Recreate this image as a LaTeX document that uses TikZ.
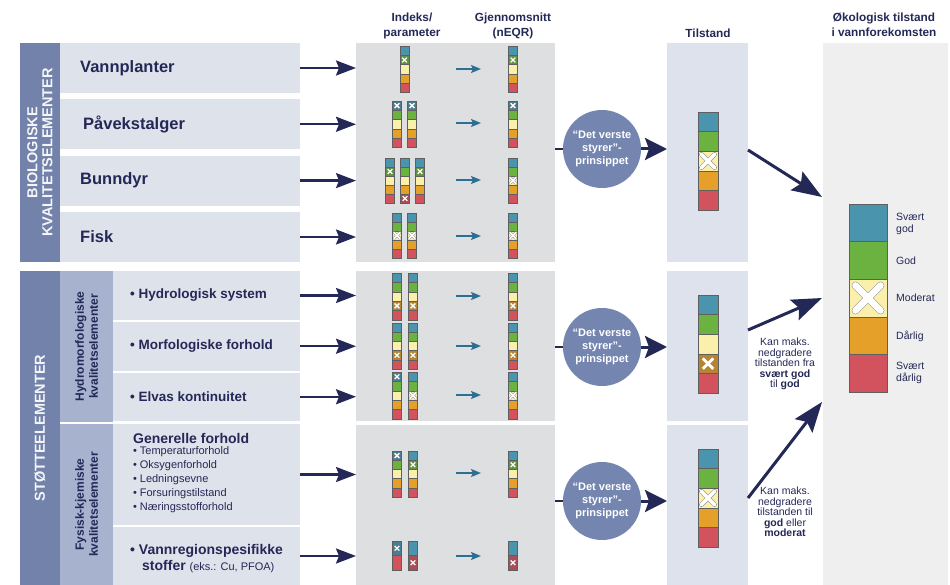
\documentclass[tikz,border=0pt]{standalone}
\usepackage{fontspec}
\setmainfont{Liberation Sans}
\usepackage{xcolor}
\usetikzlibrary{arrows.meta,positioning,calc}

\definecolor{kblue}{RGB}{75,148,174}
\definecolor{kgreen}{RGB}{108,178,64}
\definecolor{kyellow}{RGB}{250,240,172}
\definecolor{korange}{RGB}{228,160,40}
\definecolor{kred}{RGB}{210,82,94}
\definecolor{kdark}{RGB}{70,70,70}
\definecolor{kline}{RGB}{95,95,95}
\definecolor{knavy}{RGB}{36,40,86}
\definecolor{kslate}{RGB}{114,130,170}
\definecolor{kmid}{RGB}{166,178,206}
\definecolor{kbox}{RGB}{222,226,235}
\definecolor{kgrey}{RGB}{221,223,225}
\definecolor{ktil}{RGB}{221,226,236}
\definecolor{keco}{RGB}{239,239,239}
\definecolor{kteal}{RGB}{46,111,145}
\definecolor{kcircle}{RGB}{116,133,176}

% bar: x centre, top, segment height, width, list colour/mark (n, f, h)
\newcommand{\kbar}[5]{%
  \foreach \kc/\km [count=\i from 0] in {#5}{%
    \pgfmathsetmacro{\ktop}{#2+\i*#3}%
    \pgfmathsetmacro{\kcy}{#2+(\i+0.5)*#3}%
    \if\km f%
      \pgfmathsetmacro{\ka}{0.26*#4}%
      \pgfmathsetmacro{\klw}{max(1.3,0.14*#4)}%
      \filldraw[kseg, fill=\kc!70!kdark] (#1-#4/2,\ktop) rectangle ++(#4,#3);
      \draw[white, line width=\klw pt] (#1-\ka,\kcy-\ka) -- (#1+\ka,\kcy+\ka)
        (#1-\ka,\kcy+\ka) -- (#1+\ka,\kcy-\ka);
    \else
      \filldraw[kseg, fill=\kc] (#1-#4/2,\ktop) rectangle ++(#4,#3);
      \if\km h%
        \pgfmathsetmacro{\ka}{0.33*#4}%
        \pgfmathsetmacro{\klw}{max(1.4,0.17*#4)}%
        \pgfmathsetmacro{\kow}{\klw+1.2}%
        \draw[gray!80, line width=\kow pt, line cap=round] (#1-\ka,\kcy-\ka) -- (#1+\ka,\kcy+\ka)
          (#1-\ka,\kcy+\ka) -- (#1+\ka,\kcy-\ka);
        \draw[white, line width=\klw pt, line cap=round] (#1-\ka,\kcy-\ka) -- (#1+\ka,\kcy+\ka)
          (#1-\ka,\kcy+\ka) -- (#1+\ka,\kcy-\ka);
      \fi
    \fi
  }%
}

\begin{document}
\begin{tikzpicture}[x=1pt, y=-1pt,
    box/.style={anchor=north west, inner sep=0pt, outer sep=0pt},
    rowtext/.style={anchor=west, inner sep=0pt, text=knavy, font=\bfseries\fontsize{16.5}{18}\selectfont},
    subtext/.style={anchor=west, inner sep=0pt, text=knavy, font=\bfseries\fontsize{13.5}{16}\selectfont},
    sidelab/.style={rotate=90, align=center, inner sep=0pt, text=white!92!kslate, font=\bfseries\fontsize{14.5}{15}\selectfont},
    sublab/.style={rotate=90, align=center, inner sep=0pt, text=knavy, font=\bfseries\fontsize{12}{14}\selectfont},
    head/.style={align=center, inner sep=0pt, text=knavy, font=\bfseries\fontsize{11.8}{15}\selectfont},
    prinsipp/.style={circle, fill=kcircle, minimum size=78pt, inner sep=0pt, align=center, text=white, font=\bfseries\fontsize{11}{13.3}\selectfont},
    note/.style={align=center, inner sep=0pt, text=knavy, font=\fontsize{10.5}{10.6}\selectfont},
    legtext/.style={anchor=west, align=left, inner sep=0pt, text=knavy, font=\fontsize{10.5}{11.5}\selectfont},
    navyline/.style={draw=knavy, line width=2.4pt},
    rowarrow/.style={draw=knavy, line width=2.4pt, -{Stealth[length=20pt,width=15pt,inset=3pt]}},
    bigarrow/.style={draw=knavy, line width=3pt, -{Stealth[length=22pt,width=22pt,inset=4pt]}},
    diagarrow/.style={draw=knavy, line width=3pt, -{Stealth[length=30pt,width=22pt,inset=5pt]}},
    tealarrow/.style={draw=kteal, line width=1.8pt, -{Stealth[length=10pt,width=8pt,inset=2pt]}},
    kseg/.style={draw=kline, line width=0.5pt}]

    \useasboundingbox (0,0) rectangle (950,585);

    %LEFT BARS
    \node[box, fill=kslate, minimum width=40pt, minimum height=219pt] (biobar) at (20,43) {};
    \node[box, fill=kslate, minimum width=40pt, minimum height=314pt] (stottebar) at (20,271) {};
    \node[box, fill=kmid, minimum width=53pt, minimum height=151pt] (hydrobar) at (60,271) {};
    \node[box, fill=kmid, minimum width=53pt, minimum height=161pt] (fysbar) at (60,424) {};

    \node[sidelab] (biolab) at (biobar.center) {BIOLOGISKE\\KVALITETSELEMENTER};
    \node[sidelab] (stottelab) at (stottebar.center) {STØTTEELEMENTER};
    \node[sublab] (hydrolab) at (hydrobar.center) {Hydromorfologiske\\kvalitetselementer};
    \node[sublab] (fyslab) at (fysbar.center) {Fysisk-kjemiske\\kvalitetselementer};

    %ROWS
    \node[box, fill=kbox, minimum width=240pt, minimum height=50pt] (vannplanter) at (60,43) {};
    \node[box, fill=kbox, minimum width=240pt, minimum height=50pt] (paavekst) at (60,99.3) {};
    \node[box, fill=kbox, minimum width=240pt, minimum height=50pt] (bunndyr) at (60,155.6) {};
    \node[box, fill=kbox, minimum width=240pt, minimum height=50pt] (fisk) at (60,212) {};
    \node[box, fill=kbox, minimum width=187pt, minimum height=49pt] (hydrologisk) at (113,271) {};
    \node[box, fill=kbox, minimum width=187pt, minimum height=48.5pt] (morfologisk) at (113,322) {};
    \node[box, fill=kbox, minimum width=187pt, minimum height=48.5pt] (elvas) at (113,372.5) {};
    \node[box, fill=kbox, minimum width=187pt, minimum height=101pt] (generelle) at (113,424) {};
    \node[box, fill=kbox, minimum width=187pt, minimum height=58pt] (vannregion) at (113,527) {};

    \node[rowtext, right=20pt of vannplanter.west] (vannplanter-t) {Vannplanter};
    \node[rowtext, right=23pt of paavekst.west] (paavekst-t) {Påvekstalger};
    \node[rowtext, right=20pt of bunndyr.west] (bunndyr-t) {Bunndyr};
    \node[rowtext, right=20pt of fisk.west] (fisk-t) {Fisk};
    \node[subtext, right=17pt of hydrologisk.west] (hydrologisk-t) {• Hydrologisk system};
    \node[subtext, right=17pt of morfologisk.west] (morfologisk-t) {• Morfologiske forhold};
    \node[subtext, right=17pt of elvas.west] (elvas-t) {• Elvas kontinuitet};
    \node[subtext, font=\bfseries\fontsize{14}{16}\selectfont] (generelle-t) at (133,438) {Generelle forhold};
    \node[box, align=left, text=knavy, font=\fontsize{11}{14}\selectfont] (generelle-l) at (133,447)
        {• Temperaturforhold\\• Oksygenforhold\\• Ledningsevne\\• Forsuringstilstand\\• Næringsstofforhold};
    \node[subtext, anchor=base west, font=\bfseries\fontsize{14}{16}\selectfont] (vannregion-t) at (130,554) {• Vannregionspesifikke};
    \node[subtext, anchor=base west, font=\bfseries\fontsize{14}{16}\selectfont] (vannregion-u) at (142,570)
        {stoffer {\mdseries\fontsize{11}{14}\selectfont (eks.: Cu, PFOA)}};

    %PANELS
    \node[box, fill=kgrey, minimum width=199pt, minimum height=219pt] (indeks1) at (356,43) {};
    \node[box, fill=kgrey, minimum width=199pt, minimum height=150pt] (indeks2) at (356,271) {};
    \node[box, fill=kgrey, minimum width=199pt, minimum height=160pt] (indeks3) at (356,425) {};
    \node[box, fill=ktil, minimum width=81pt, minimum height=219pt] (tilstand1) at (667,43) {};
    \node[box, fill=ktil, minimum width=81pt, minimum height=150pt] (tilstand2) at (667,271) {};
    \node[box, fill=ktil, minimum width=81pt, minimum height=160pt] (tilstand3) at (667,425) {};
    \node[box, fill=keco, minimum width=125pt, minimum height=542pt] (eco) at (823,43) {};

    %HEADERS
    \node[head] (hindeks) at (412,26) {Indeks/\\parameter};
    \node[head] (hgjen) at (513,26) {Gjennomsnitt\\(nEQR)};
    \node[head] (htil) at (708,33) {Tilstand};
    \node[head] (heco) at (884,25) {Økologisk tilstand\\i vannforekomsten};

    %BARS
    \kbar{404.5}{46}{9.3}{9}{kblue/n,kgreen/f,kyellow/n,korange/n,kred/n}
    \kbar{513}{46}{9.3}{9}{kblue/n,kgreen/f,kyellow/n,korange/n,kred/n}
    \foreach \x in {397,412,513}
      {\kbar{\x}{101}{9.3}{9}{kblue/f,kgreen/n,kyellow/n,korange/n,kred/n}}
    \kbar{390}{158}{9}{9}{kblue/n,kgreen/f,kyellow/n,korange/n,kred/n}
    \kbar{405}{158}{9}{9}{kblue/n,kgreen/n,kyellow/n,korange/n,kred/f}
    \kbar{420}{158}{9}{9}{kblue/n,kgreen/f,kyellow/n,korange/n,kred/n}
    \kbar{513}{158}{9}{9}{kblue/n,kgreen/n,kyellow/h,korange/n,kred/n}
    \foreach \x in {397,412,513}
      {\kbar{\x}{213}{9}{9}{kblue/n,kgreen/n,kyellow/h,korange/n,kred/n}}

    \foreach \x in {397,413,513}
      {\kbar{\x}{273}{9.4}{9}{kblue/n,kgreen/n,kyellow/n,korange/f,kred/n}}
    \foreach \x in {397,413,513}
      {\kbar{\x}{323}{9.2}{9}{kblue/n,kgreen/n,kyellow/n,korange/f,kred/n}}
    \kbar{397}{372}{9.4}{9}{kblue/f,kgreen/n,kyellow/n,korange/n,kred/n}
    \kbar{413}{372}{9.4}{9}{kblue/n,kgreen/n,kyellow/h,korange/n,kred/n}
    \kbar{513}{372}{9.4}{9}{kblue/n,kgreen/n,kyellow/h,korange/n,kred/n}
    \kbar{397}{451}{9.2}{9}{kblue/f,kgreen/n,kyellow/n,korange/n,kred/n}
    \foreach \x in {413,513}
      {\kbar{\x}{451}{9.2}{9}{kblue/n,kgreen/f,kyellow/n,korange/n,kred/n}}
    \kbar{397}{541}{14.5}{9}{kblue/f,kred/n}
    \foreach \x in {413,513}
      {\kbar{\x}{541}{14.5}{9}{kblue/n,kred/f}}

    \kbar{708}{112}{19.6}{20}{kblue/n,kgreen/n,kyellow/h,korange/n,kred/n}
    \kbar{708}{295}{19.6}{20}{kblue/n,kgreen/n,kyellow/n,korange/f,kred/n}
    \kbar{708}{449}{19.6}{20}{kblue/n,kgreen/n,kyellow/h,korange/n,kred/n}
    \kbar{868}{204}{37.6}{38}{kblue/n,kgreen/n,kyellow/h,korange/n,kred/n}

    %LEGEND
    \node[legtext] (svgod) at (896,224) {Svært\\god};
    \node[legtext] (god) at (896,261) {God};
    \node[legtext] (moderat) at (896,298) {Moderat};
    \node[legtext] (darlig) at (896,336) {Dårlig};
    \node[legtext] (svdarlig) at (896,373) {Svært\\dårlig};

    %ARROWS
    \foreach \r in {vannplanter,paavekst,bunndyr,fisk}
      \draw[rowarrow] (\r.east) -- (\r.east -| indeks1.west);
    \foreach \r in {hydrologisk,morfologisk,elvas,generelle,vannregion}
      \draw[rowarrow] (\r.east) -- (\r.east -| indeks2.west);
    \foreach \y in {69,123,180,236,296,346,395,473,556}
      \draw[tealarrow] (456,\y) -- (481,\y);

    %PRINSIPP
    \node[prinsipp] (prinsipp1) at (602,149) {“Det verste\\styrer”-\\prinsippet};
    \node[prinsipp] (prinsipp2) at (602,347) {“Det verste\\styrer”-\\prinsippet};
    \node[prinsipp] (prinsipp3) at (602,501) {“Det verste\\styrer”-\\prinsippet};
    \draw[navyline] (indeks1.east |- prinsipp1) -- (prinsipp1.west);
    \draw[navyline] (indeks2.east |- prinsipp2) -- (prinsipp2.west);
    \draw[navyline] (indeks3.east |- prinsipp3) -- (prinsipp3.west);
    \draw[bigarrow] (prinsipp1.east) -- (prinsipp1 -| tilstand1.west);
    \draw[bigarrow] (prinsipp2.east) -- (prinsipp2 -| tilstand2.west);
    \draw[bigarrow] (prinsipp3.east) -- (prinsipp3 -| tilstand3.west);

    %TO ECO
    \coordinate (eco1) at (822,197);
    \coordinate (eco2) at (822,298);
    \coordinate (eco3) at (822,402);
    \draw[diagarrow] ([yshift=2.5pt]tilstand1.east) -- (eco1);
    \draw[diagarrow] ([yshift=16pt]tilstand2.east) -- (eco2);
    \draw[diagarrow] ([yshift=7pt]tilstand3.east) -- (eco3);

    \node[note] (note1) at (785,364) {Kan maks.\\nedgradere\\tilstanden fra\\\textbf{svært god}\\til \textbf{god}};
    \node[note] (note2) at (785,512) {Kan maks.\\nedgradere\\tilstanden til\\\textbf{god} eller\\\textbf{moderat}};
\end{tikzpicture}
\end{document}
